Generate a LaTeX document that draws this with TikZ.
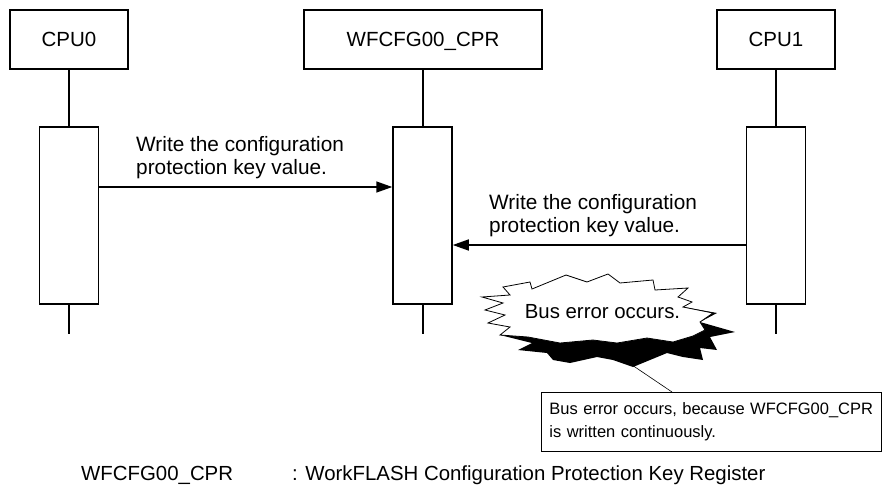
\documentclass[tikz,border=0pt]{standalone}
\usepackage{fontspec}
\setmainfont{Liberation Sans}
\usetikzlibrary{arrows.meta}
\begin{document}
\begin{tikzpicture}[x=1pt,y=-1pt,
  hdr/.style={draw, line width=1.5pt, inner sep=0pt, minimum height=59pt, text height=14.7pt, text depth=0pt, font=\fontsize{20.5}{24}\selectfont},
  act/.style={draw, line width=1.5pt, inner sep=0pt, minimum width=59pt, minimum height=177pt, fill=white},
  life/.style={line width=1.5pt},
  msg/.style={line width=1.5pt, -{Triangle[length=16pt,width=11pt]}},
  lbl/.style={anchor=north west, inner sep=0pt, align=left, font=\fontsize{20.8}{22.5}\selectfont},
  keytext/.style={anchor=base west, inner sep=0pt, font=\fontsize{20.4}{24}\selectfont}]
\useasboundingbox (0,0) rectangle (882,490);
% headers
\node[hdr, minimum width=118pt] (cpu0) at (69,39.5) {CPU0};
\node[hdr, minimum width=238pt] (reg) at (423,39.5) {WFCFG00\_CPR};
\node[hdr, minimum width=118pt] (cpu1) at (776,39.5) {CPU1};
% activations
\node[act] (a0) at (69,215.5) {};
\node[act] (ar) at (422.5,215.5) {};
\node[act] (a1) at (776,215.5) {};
\coordinate (e0) at (69,334);
\coordinate (er) at (423,334);
\coordinate (e1) at (776,334);
% lifelines
\draw[life] (cpu0.south) -- (a0.north);
\draw[life] (a0.south) -- (e0);
\draw[life] (reg.south) -- (reg.south |- ar.north);
\draw[life] (reg.south |- ar.south) -- (er);
\draw[life] (cpu1.south) -- (a1.north);
\draw[life] (a1.south) -- (e1);
% messages
\draw[msg] (a0.east |- 0,187) -- (ar.west |- 0,187);
\draw[msg] (a1.west |- 0,245) -- (ar.east |- 0,245);
\node[lbl] (m1) at (136,136.5) {Write the configuration\\protection key value.};
\node[lbl] (m2) at (489,194.5) {Write the configuration\\protection key value.};
% starburst
\fill[black] (683,307) -- (717,313) -- (700,322) -- (735,332) -- (710,337) -- (717,350) -- (700,348) -- (703,360) -- (683,357) -- (667,353) -- (650,360) -- (633,367) -- (613,360) -- (597,357) -- (570,363) -- (553,360) -- (547,353) -- (518,350) -- (532,343) -- (500,335) -- (560,325) -- (650,320) -- cycle;
\filldraw[fill=white, draw=black, line width=0.8pt] (503,287) -- (530,282) -- (532,289) -- (566,275) -- (587,282) -- (608,274) -- (620,283) -- (653,280) -- (655,290) -- (688,288) -- (678,297) -- (692,302) -- (683,307) -- (713,313) -- (700,322) -- (705,330) -- (693,336) -- (673,342) -- (647,338) -- (617,343) -- (593,340) -- (560,343) -- (528,337) -- (500,335) -- (510,327) -- (488,323) -- (505,315) -- (485,310) -- (503,303) -- (482,297) -- (510,295) -- cycle;
\node[anchor=base, inner sep=0pt, font=\fontsize{20.4}{24}\selectfont] (burst) at (602.5,318) {Bus error occurs.};
\coordinate (tip) at (632,365);
% callout
\node[draw, line width=0.8pt, anchor=north west, minimum width=340pt, minimum height=59pt, text width=324pt, inner xsep=8pt, inner ysep=0pt, align=left, font=\fontsize{16.5}{23}\selectfont] (note) at (541,392) {Bus error occurs, because WFCFG00\_CPR\\is written continuously.};
\draw[line width=0.6pt] ([xshift=131pt]note.north west) -- (tip);
% key
\node[keytext] (k1) at (81,480) {WFCFG00\_CPR};
\node[keytext] (k2) at (292,480) {: WorkFLASH Configuration Protection Key Register};
\end{tikzpicture}
\end{document}
